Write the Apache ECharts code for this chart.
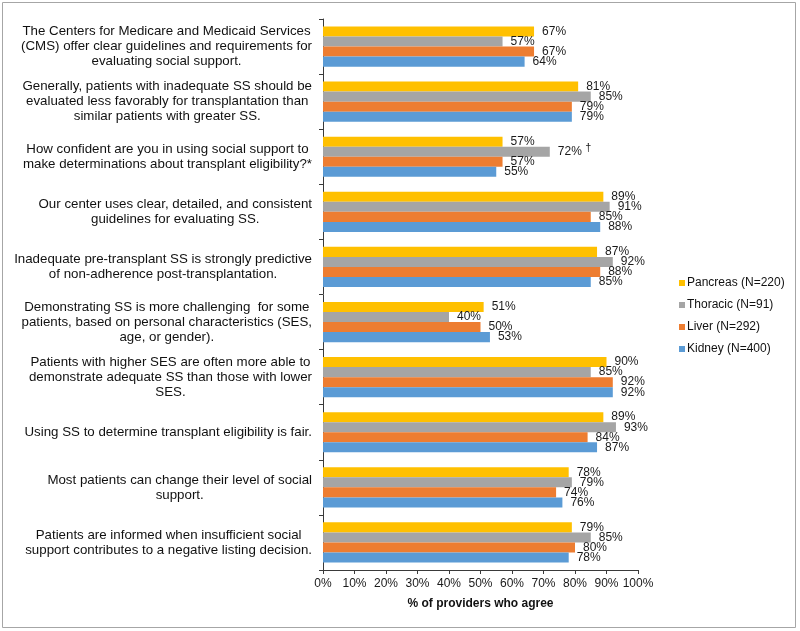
<!DOCTYPE html>
<html>
<head>
<meta charset="utf-8">
<script src="https://cdn.jsdelivr.net/npm/echarts@6/dist/echarts.min.js"></script>
<style>html,body{margin:0;padding:0;background:#fff;}#c{width:800px;height:631px;}</style>
</head>
<body>
<div id="c"></div>
<script>
const categories = [
  "The Centers for Medicare and Medicaid Services\n(CMS) offer clear guidelines and requirements for\nevaluating social support.",
  "Generally, patients with inadequate SS should be\nevaluated less favorably for transplantation than\nsimilar patients with greater SS.",
  "How confident are you in using social support to\nmake determinations about transplant eligibility?*",
  "Our center uses clear, detailed, and consistent\nguidelines for evaluating SS.",
  "Inadequate pre-transplant SS is strongly predictive\nof non-adherence post-transplantation.",
  "Demonstrating SS is more challenging  for some\npatients, based on personal characteristics (SES,\nage, or gender).",
  "Patients with higher SES are often more able to\ndemonstrate adequate SS than those with lower\nSES.",
  "Using SS to determine transplant eligibility is fair.",
  "Most patients can change their level of social\nsupport.",
  "Patients are informed when insufficient social\nsupport contributes to a negative listing decision."
];
const seriesNames = ["Pancreas (N=220)", "Thoracic (N=91)", "Liver (N=292)", "Kidney (N=400)"];
const pancreas = [67, 81, 57, 89, 87, 51, 90, 89, 78, 79];
const thoracic = [57, 85, 72, 91, 92, 40, 85, 93, 79, 85];
const liver    = [67, 79, 57, 85, 88, 50, 92, 84, 74, 80];
const kidney   = [64, 79, 55, 88, 85, 53, 92, 87, 76, 78];
const xTicks = [0, 10, 20, 30, 40, 50, 60, 70, 80, 90, 100];
const colors = ["#FFC000", "#A5A5A5", "#ED7D31", "#5B9BD5"];
const daggerMark = { series: 1, index: 2 };

const font = "Arial, 'Liberation Sans', sans-serif";
const allData = [pancreas, thoracic, liver, kidney];

const series = allData.map((d, si) => ({
  name: seriesNames[si],
  type: 'bar',
  data: d,
  barGap: '0%',
  barCategoryGap: '27%',
  itemStyle: { color: colors[si] },
  label: {
    show: true,
    position: 'right',
    distance: 8,
    color: '#1a1a1a',
    fontSize: 12,
    fontFamily: font,
    formatter: p => (si === daggerMark.series && p.dataIndex === daggerMark.index)
      ? p.value + '% {s|†}' : p.value + '%',
    rich: { s: { fontSize: 11, fontFamily: font, color: '#1a1a1a', padding: [0, 0, 8, 0] } }
  }
}));

const chart = echarts.init(document.getElementById('c'), null, { renderer: 'canvas' });
chart.setOption({
  animation: false,
  backgroundColor: '#fff',
  textStyle: { fontFamily: font },
  graphic: [{
    type: 'rect', shape: { x: 2.5, y: 2.5, width: 793, height: 625 },
    style: { fill: 'none', stroke: '#A6A6A6', lineWidth: 1 }, silent: true
  }],
  grid: { left: 323, right: 162, top: 19, bottom: 61, containLabel: false },
  legend: {
    orient: 'vertical', left: 674, top: 272,
    itemWidth: 6, itemHeight: 6, itemGap: 10,
    icon: 'rect',
    data: seriesNames,
    textStyle: { fontSize: 12, color: '#111', fontFamily: font, padding: [0, 0, 0, -3] }
  },
  xAxis: {
    type: 'value', min: 0, max: 100, interval: 10,
    name: '% of providers who agree', nameLocation: 'middle', nameGap: 28,
    nameTextStyle: { fontSize: 12, fontWeight: 'bold', color: '#111', fontFamily: font },
    axisLine: { show: true, lineStyle: { color: '#3a3a3a' } },
    axisTick: { show: true, length: 4, lineStyle: { color: '#3a3a3a' } },
    splitLine: { show: false },
    axisLabel: { fontSize: 12, color: '#1a1a1a', margin: 8, fontFamily: font,
      formatter: v => xTicks.includes(v) ? v + '%' : '' }
  },
  yAxis: {
    type: 'category', data: categories, inverse: true,
    axisLine: { show: true, lineStyle: { color: '#3a3a3a' } },
    axisTick: { show: true, length: 4, lineStyle: { color: '#3a3a3a' } },
    axisLabel: {
      margin: 11, align: 'right', fontSize: 13.3, color: '#111', fontFamily: font, lineHeight: 15,
      formatter: v => v.split('\n').map(l => '{c|' + l + '}').join('\n'),
      rich: { c: { align: 'center', fontSize: 13.3, lineHeight: 15, color: '#111', fontFamily: font } }
    }
  },
  series: series
});
</script>
</body>
</html>
